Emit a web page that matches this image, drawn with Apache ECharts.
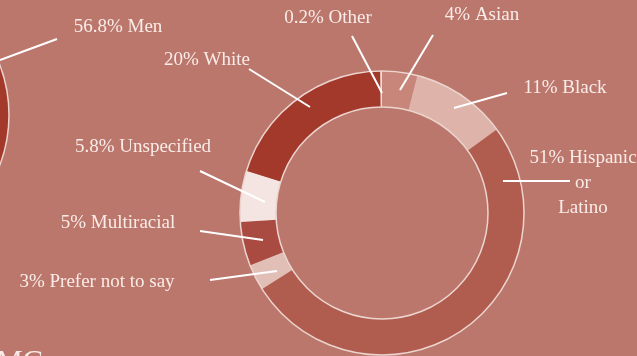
<!DOCTYPE html>
<html>
<head>
<meta charset="utf-8">
<script src="https://cdn.jsdelivr.net/npm/echarts@6/dist/echarts.min.js"></script>
<style>
html,body{margin:0;padding:0;background:#BC776D;}
#chart{width:637px;height:356px;}
</style>
</head>
<body>
<div id="chart"></div>
<script>
// ---- data ----
var raceNames  = ['Asian', 'Black', 'Hispanic or Latino', 'Prefer not to say', 'Multiracial', 'Unspecified', 'White', 'Other'];
var raceValues = [4, 11, 51, 3, 5, 5.8, 20, 0.2];
var genderNames  = ['Men', 'Women'];
var genderValues = [56.8, 43.2];

// ---- styles / layout (not data) ----
var raceColors = ['#C8867B', '#DEB3A9', '#B05D4F', '#E2BFB6', '#A94B40', '#F4E5E2', '#A2392B', '#F2DCD6'];
var genderColors = ['#A2392B', '#C8867B'];
var FONT = '"Liberation Serif", "Times New Roman", serif';
var TEXT = '#F9ECE8';
// label anchor [x, y] and guide line [from, to]
var raceLabelSpots = [
  {x: 482, y: 15, line: [[400, 90], [433, 35]]},
  {x: 565, y: 88, line: [[454, 108], [507, 93]]},
  {x: 583, y: 183, line: [[503, 181], [570, 181]]},
  {x: 97, y: 282, line: [[277, 271], [210, 280]]},
  {x: 118, y: 223, line: [[263, 240], [200, 231]]},
  {x: 143, y: 147, line: [[265, 202], [200, 171]]},
  {x: 207, y: 60, line: [[310, 107], [249, 69]]},
  {x: 328, y: 18, line: [[382, 93], [352, 36]]}
];
var genderLabelSpots = [
  {x: 118, y: 27, line: [[0, 60], [57, 39]]},
  null
];

function mkData(names, values, colors) {
  return names.map(function (n, i) {
    return {name: n, value: values[i], itemStyle: {color: colors ? colors[i] : 'rgba(0,0,0,0)'}};
  });
}
function layoutFrom(spots) {
  return function (p) {
    var s = spots[p.dataIndex];
    if (!s) return {};
    var a = s.line[0], b = s.line[1];
    return {
      x: s.x, y: s.y, align: 'center', verticalAlign: 'middle',
      labelLinePoints: [a, [(a[0] + b[0]) / 2, (a[1] + b[1]) / 2], b]
    };
  };
}
var labelStyle = {
  show: true,
  position: 'outside',
  color: TEXT,
  fontFamily: FONT,
  fontSize: 19,
  lineHeight: 25,
  align: 'center',
  formatter: function (p) {
    return p.value + '% ' + p.name.replace(' or ', '\nor\n');
  }
};
var lineStyle = {show: true, lineStyle: {color: '#FFFFFF', width: 2}, length: 10, length2: 10};

function ring(center, names, values, colors) {
  return {
    type: 'pie', center: center, radius: [106, 142], silent: true,
    startAngle: 90, clockwise: true, z: 2,
    label: {show: false}, labelLine: {show: false},
    data: mkData(names, values, colors)
  };
}
function ringOutline(center) {
  return {
    type: 'pie', silent: true, center: center, radius: [106, 142],
    label: {show: false}, labelLine: {show: false}, z: 4,
    itemStyle: {color: 'rgba(0,0,0,0)', borderColor: '#ECD5CF', borderWidth: 1.5},
    data: [{value: 1, name: ''}]
  };
}
function labelOverlay(center, names, values, spots, label) {
  return {
    type: 'pie', center: center, radius: [106, 142], silent: true,
    startAngle: 90, clockwise: true, avoidLabelOverlap: false, z: 6,
    label: label, labelLine: lineStyle,
    labelLayout: layoutFrom(spots),
    data: mkData(names, values, null)
  };
}

var chart = echarts.init(document.getElementById('chart'));
chart.setOption({
  backgroundColor: '#BC776D',
  animation: false,
  graphic: [{
    type: 'text', left: -4, top: 347,
    style: {text: 'MG', fill: TEXT, font: '30px ' + FONT}
  }],
  series: [
    ring([382, 213], raceNames, raceValues, raceColors),
    ringOutline([382, 213]),
    labelOverlay([382, 213], raceNames, raceValues, raceLabelSpots, labelStyle),
    ring([-133, 115], genderNames, genderValues, genderColors),
    ringOutline([-133, 115]),
    labelOverlay([-133, 115], genderNames, genderValues, genderLabelSpots,
      Object.assign({}, labelStyle, {
        formatter: function (p) { return p.dataIndex === 0 ? p.value + '% ' + p.name : ''; }
      }))
  ]
});
</script>
</body>
</html>
